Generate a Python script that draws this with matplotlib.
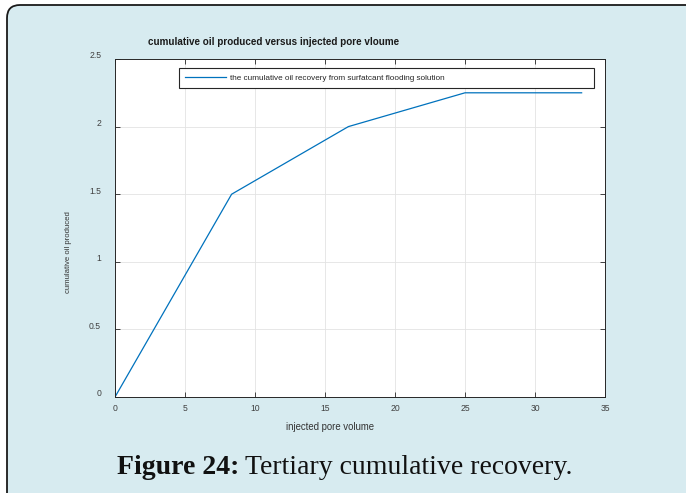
import matplotlib
matplotlib.use("Agg")
import matplotlib.pyplot as plt
from matplotlib.patches import FancyBboxPatch
from matplotlib.transforms import IdentityTransform, ScaledTranslation

# Data
pore_volume = [0, 8.33, 16.67, 25.0, 33.33]
cum_oil = [0, 1.5, 2.0, 2.25, 2.25]
x_ticks = [0, 5, 10, 15, 20, 25, 30, 35]
x_tick_labels = ["0", "5", "10", "15", "20", "25", "30", "35"]
y_ticks = [0, 0.5, 1.0, 1.5, 2.0, 2.5]
y_tick_labels = ["0", "0.5", "1", "1.5", "2", "2.5"]
title = "cumulative oil produced versus injected pore vloume"
xlabel = "injected pore volume"
ylabel = "cumulative oil produced"
legend_label = "the cumulative oil recovery from surfatcant flooding solution"

W, H = 686, 493
fig = plt.figure(figsize=(W / 100, H / 100), dpi=100, facecolor="white")
bg = "#d7ebf0"

# rounded framed panel
panel = FancyBboxPatch((7, -30), 720, (H - 5) + 30,
                       boxstyle="round,pad=0,rounding_size=13",
                       transform=IdentityTransform(), facecolor=bg,
                       edgecolor="#1a1a1a", linewidth=1.3, zorder=-10)
fig.add_artist(panel)

ax = fig.add_axes([115 / W, 1 - 397 / H, (605 - 115) / W, (397 - 59) / H])
ax.set_zorder(1)
ax.set_facecolor("white")
ax.plot(pore_volume, cum_oil, color="#0072BD", linewidth=0.9, label=legend_label)
ax.set_xlim(0, 35)
ax.set_ylim(0, 2.5)
ax.set_xticks(x_ticks)
ax.set_xticklabels(x_tick_labels)
ax.set_yticks(y_ticks)
ax.set_yticklabels(y_tick_labels)
ax.grid(True, color="#e3e3e3", linewidth=0.6)
ax.set_axisbelow(True)
ax.tick_params(direction="in", top=True, right=True, length=3.5, width=0.6,
               labelsize=6.2, labelcolor="#404040", color="#262626")
ax.tick_params(axis="y", pad=10)
ax.tick_params(axis="x", pad=5)
for s in ax.spines.values():
    s.set_color("#262626")
    s.set_linewidth(0.7)

fam = "Liberation Sans"
up = ScaledTranslation(0, 4 / 100, fig.dpi_scale_trans)
for lab in ax.get_xticklabels() + ax.get_yticklabels():
    lab.set_family(fam)
for lab in ax.get_yticklabels():
    lab.set_transform(lab.get_transform() + up)

# title (placed left of centre as in the reference)
fig.text(148 / W, 1 - 42 / H, title, fontsize=7.1, fontweight="bold", family=fam,
         color="#1a1a1a", ha="left", va="center")
ax.set_xlabel(xlabel, fontsize=6.9, family=fam, color="#333333")
ax.xaxis.set_label_coords((330 - 115) / (605 - 115), -(427 - 397) / (397 - 59))
ax.xaxis.label.set_va("center")
ax.set_ylabel(ylabel, fontsize=5.6, family=fam, color="#333333")
ax.yaxis.set_label_coords(-(115 - 68) / (605 - 115), 1 - (252 - 59) / (397 - 59))
ax.yaxis.label.set_va("center")

leg = ax.legend(loc="upper left",
                bbox_to_anchor=((179 - 115) / 490, 1 - (89 - 59) / 338, (594 - 179) / 490, 21 / 338),
                mode="expand", fancybox=False, framealpha=1, edgecolor="#262626",
                prop={"family": fam, "size": 5.9}, handlelength=5.0,
                handletextpad=0.5, borderpad=0.75, borderaxespad=0)
leg.get_frame().set_linewidth(0.8)
for t in leg.get_texts():
    t.set_color("#262626")

# caption
cap_y = 1 - 467 / H
t1 = fig.text(117 / W, cap_y, "Figure 24:", fontsize=20, fontweight="bold",
              family="Liberation Serif", va="center", ha="left", color="#111111")
fig.canvas.draw()
bb = t1.get_window_extent()
fig.text((bb.x1 + 6) / W, cap_y, "Tertiary cumulative recovery.", fontsize=20,
         family="Liberation Serif", va="center", ha="left", color="#111111")

fig.savefig("out.png", dpi=100, facecolor="white")
